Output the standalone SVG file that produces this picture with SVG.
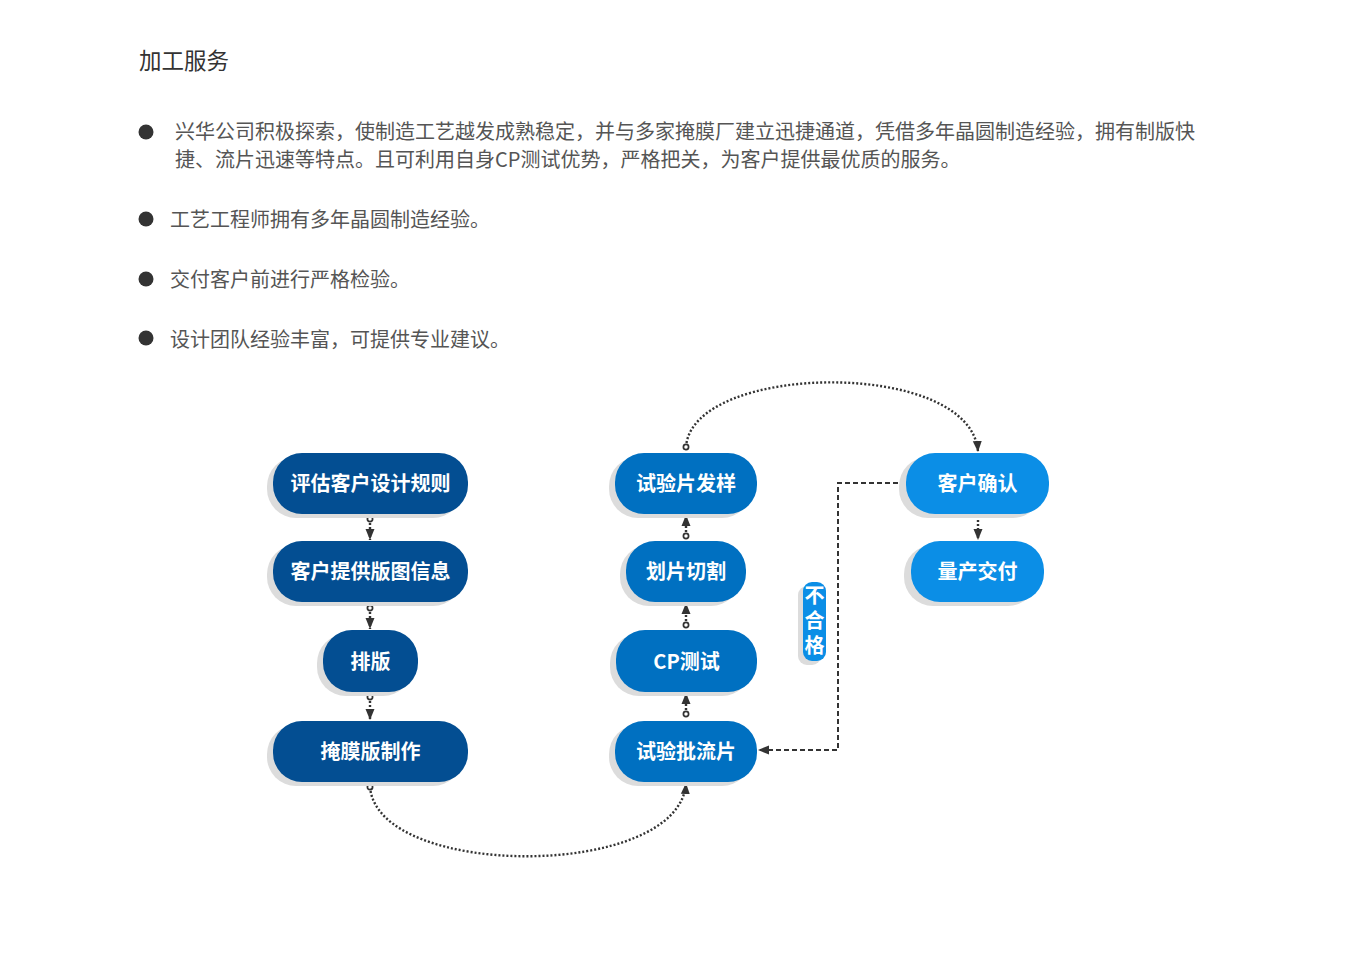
<svg xmlns="http://www.w3.org/2000/svg" width="1368" height="955" viewBox="0 0 1368 955">
<style>
.t{font-family:"Noto Sans CJK SC","Noto Sans",sans-serif;}
.title{font-size:22.5px;fill:#333;}
.body{font-size:20px;fill:#555;}
.bul{fill:#333;}
.nt{font-size:20px;font-weight:bold;fill:#fff;text-anchor:middle;}
.vt{font-size:20px;font-weight:bold;fill:#fff;text-anchor:middle;writing-mode:vertical-rl;letter-spacing:5px;}
.sh{fill:#dcdcdc;}
.c1{fill:#034e92;}
.c2{fill:#0070c1;}
.c3{fill:#0b8ee6;}
.dot{fill:none;stroke:#333;stroke-width:2.4;stroke-dasharray:2 2;}
.dash{fill:none;stroke:#333;stroke-width:2;stroke-dasharray:5 3;}
</style>
<defs>
<marker id="circ" markerUnits="userSpaceOnUse" markerWidth="10" markerHeight="10" refX="5" refY="5" orient="auto">
<circle cx="5" cy="5" r="2.6" fill="#fff" stroke="#333" stroke-width="1.7"/>
</marker>
<marker id="arr" markerUnits="userSpaceOnUse" markerWidth="14" markerHeight="12" refX="11" refY="5" orient="auto">
<path d="M0,0.5 L11,5 L0,9.5 Z" fill="#333"/>
</marker>
</defs>
<rect width="1368" height="955" fill="#fff"/>

<g id="text">
<text class="t title" x="139" y="69">加工服务</text>
<circle class="bul" cx="146" cy="132" r="7.5"/>
<text class="t body" x="175" y="139">兴华公司积极探索，使制造工艺越发成熟稳定，并与多家掩膜厂建立迅捷通道，凭借多年晶圆制造经验，拥有制版快</text>
<text class="t body" x="175" y="167">捷、流片迅速等特点。且可利用自身CP测试优势，严格把关，为客户提供最优质的服务。</text>
<circle class="bul" cx="146" cy="219" r="7.5"/>
<text class="t body" x="170" y="227">工艺工程师拥有多年晶圆制造经验。</text>
<circle class="bul" cx="146" cy="279" r="7.5"/>
<text class="t body" x="170" y="287">交付客户前进行严格检验。</text>
<circle class="bul" cx="146" cy="338" r="7.5"/>
<text class="t body" x="170" y="347">设计团队经验丰富，可提供专业建议。</text>
</g>

<g id="connectors">
<path class="dot" d="M370,519 V540" marker-start="url(#circ)" marker-end="url(#arr)"/>
<path class="dot" d="M370,608 V629" marker-start="url(#circ)" marker-end="url(#arr)"/>
<path class="dot" d="M370,697 V720" marker-start="url(#circ)" marker-end="url(#arr)"/>
<path class="dot" d="M370,787 C378,880 680,880 686,783" marker-start="url(#circ)" marker-end="url(#arr)"/>
<path class="dot" d="M686,714 V693" marker-start="url(#circ)" marker-end="url(#arr)"/>
<path class="dot" d="M686,625 V603" marker-start="url(#circ)" marker-end="url(#arr)"/>
<path class="dot" d="M686,536 V515" marker-start="url(#circ)" marker-end="url(#arr)"/>
<path class="dot" d="M686,447 C692,362 972,358 978,452" marker-start="url(#circ)" marker-end="url(#arr)"/>
<path class="dot" d="M978,516 V540" marker-end="url(#arr)"/>
<path class="dash" d="M906,483 H838 V750 H758" marker-end="url(#arr)"/>
</g>

<g id="n1">
<rect class="sh" x="267" y="457" width="195" height="61" rx="29"/>
<rect class="c1" x="273" y="453" width="195" height="61" rx="29"/>
<text class="t nt" x="370.5" y="491">评估客户设计规则</text>
</g>
<g id="n2">
<rect class="sh" x="267" y="545" width="195" height="61" rx="29"/>
<rect class="c1" x="273" y="541" width="195" height="61" rx="29"/>
<text class="t nt" x="370.5" y="579">客户提供版图信息</text>
</g>
<g id="n3">
<rect class="sh" x="317" y="634" width="95" height="62" rx="29"/>
<rect class="c1" x="323" y="630" width="95" height="62" rx="29"/>
<text class="t nt" x="370.5" y="669">排版</text>
</g>
<g id="n4">
<rect class="sh" x="267" y="725" width="195" height="61" rx="29"/>
<rect class="c1" x="273" y="721" width="195" height="61" rx="29"/>
<text class="t nt" x="370.5" y="759">掩膜版制作</text>
</g>

<g id="n5">
<rect class="sh" x="609" y="457" width="142" height="61" rx="29"/>
<rect class="c2" x="615" y="453" width="142" height="61" rx="29"/>
<text class="t nt" x="686" y="491">试验片发样</text>
</g>
<g id="n6">
<rect class="sh" x="620" y="545" width="120" height="61" rx="29"/>
<rect class="c2" x="626" y="541" width="120" height="61" rx="29"/>
<text class="t nt" x="686" y="579">划片切割</text>
</g>
<g id="n7">
<rect class="sh" x="610" y="634" width="141" height="62" rx="29"/>
<rect class="c2" x="616" y="630" width="141" height="62" rx="29"/>
<text class="t nt" x="686.5" y="669">CP测试</text>
</g>
<g id="n8">
<rect class="sh" x="609" y="725" width="142" height="61" rx="29"/>
<rect class="c2" x="615" y="721" width="142" height="61" rx="29"/>
<text class="t nt" x="686" y="759">试验批流片</text>
</g>

<g id="n9">
<rect class="sh" x="899" y="457" width="143" height="61" rx="29"/>
<rect class="c3" x="906" y="453" width="143" height="61" rx="29"/>
<text class="t nt" x="977.5" y="491">客户确认</text>
</g>
<g id="n10">
<rect class="sh" x="904" y="545" width="133" height="61" rx="29"/>
<rect class="c3" x="911" y="541" width="133" height="61" rx="29"/>
<text class="t nt" x="977.5" y="579">量产交付</text>
</g>

<g id="label">
<rect class="sh" x="798" y="586" width="23" height="79" rx="9"/>
<rect class="c3" x="803" y="582" width="23" height="79" rx="9"/>
<text class="t vt" x="814.5" y="623">不合格</text>
</g>
</svg>
